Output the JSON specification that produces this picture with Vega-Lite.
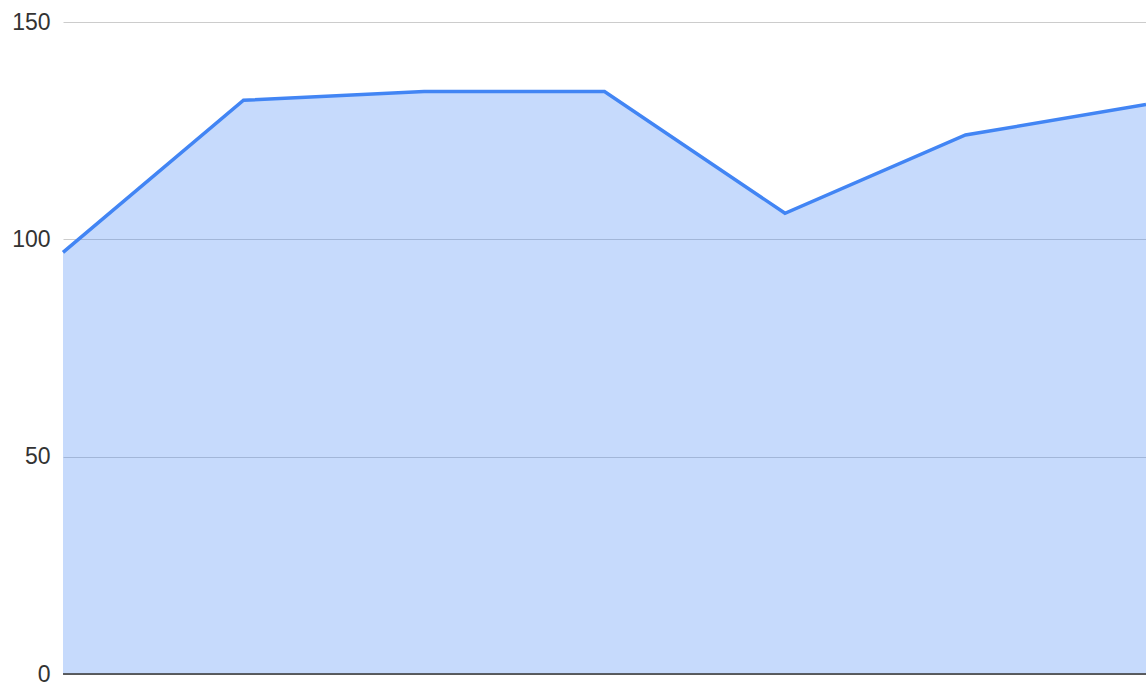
{
  "$schema": "https://vega.github.io/schema/vega-lite/v6.json",
  "width": 1083,
  "height": 652,
  "autosize": {"type": "none"},
  "padding": {"left": 63, "top": 22, "right": 0, "bottom": 13},
  "background": "white",
  "config": {"view": {"stroke": null}},
  "data": {"values": [
    {"i": 0, "value": 97},
    {"i": 1, "value": 132},
    {"i": 2, "value": 134},
    {"i": 3, "value": 134},
    {"i": 4, "value": 106},
    {"i": 5, "value": 124},
    {"i": 6, "value": 131}
  ]},
  "encoding": {
    "x": {"field": "i", "type": "quantitative", "scale": {"domain": [0, 6], "nice": false, "zero": false},
      "axis": {"title": null, "labels": false, "ticks": false, "grid": false, "domain": false}},
    "y": {"field": "value", "type": "quantitative", "scale": {"domain": [0, 150], "nice": false},
      "axis": {"title": null, "values": [0, 50, 100, 150], "ticks": false, "domain": false, "grid": true,
        "gridColor": "#cccccc", "gridWidth": 1, "labelFont": "Liberation Sans", "labelFontSize": 23,
        "labelColor": "#333333", "labelPadding": 13}}
  },
  "layer": [
    {"mark": {"type": "area", "color": "#4285f4", "fillOpacity": 0.3, "line": false}},
    {"mark": {"type": "line", "color": "#4285f4", "strokeWidth": 3.5}},
    {"data": {"values": [{"y": 0}]},
     "mark": {"type": "rule", "color": "#333333", "strokeWidth": 1.5},
     "encoding": {"y": {"field": "y", "type": "quantitative"}, "x": {"value": 0}, "x2": {"value": 1083}}}
  ]
}
